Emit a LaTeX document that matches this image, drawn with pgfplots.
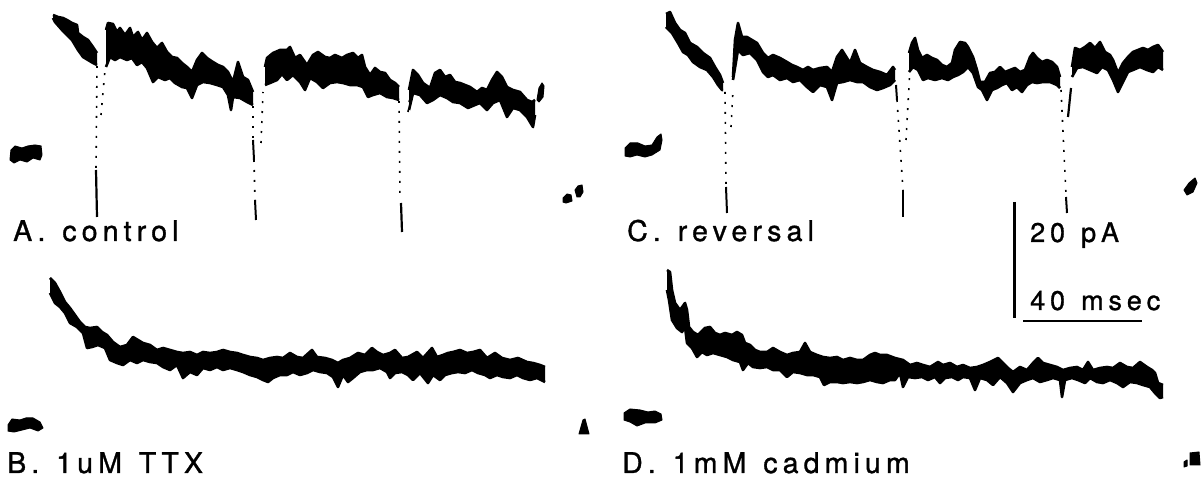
\documentclass[border=0pt]{standalone}
\usepackage{pgfplots}
\pgfplotsset{compat=1.18}
\usepgfplotslibrary{fillbetween}
\usepackage{fontspec}
\setmainfont{TeX Gyre Heros}[LetterSpace=18, FakeBold=1.1, WordSpace=1.3]
\tikzset{
  lab/.style={anchor=base west, inner sep=0pt, font=\fontsize{28.5}{32}\selectfont},
  dotsp/.style={line width=1.6pt, dash pattern=on 2pt off 8pt},
  blob/.style={fill=black, line width=1pt}}
\begin{document}
\begin{tikzpicture}
\begin{axis}[hide axis, scale only axis, width=1204pt, height=478pt,
  xmin=0, xmax=1204, ymin=0, ymax=478, y dir=reverse, clip=false,
  every axis plot/.append style={black, line width=2.6pt, line join=round}]
\path (rel axis cs:0,0) rectangle (rel axis cs:1,1);

% ---------------- Panel A ----------------
\addplot[blob] coordinates {(11,150)(15,146)(22,148)(28,146)(35,145)(41,146)(42,155)(40,160)(33,158)(27,162)(20,160)(14,163)(10,160)} -- cycle;
\addplot[name path=a1u] coordinates {(53,15)(58,17)(63,18)(67,20)(72,23)(77,25)(78,33)(83,37)(88,40)(93,47)(97,53)};
\addplot[name path=a1l] coordinates {(53,18)(55,22)(62,30)(67,35)(72,40)(78,50)(83,57)(88,60)(93,63)(97,65)};
\addplot[black] fill between[of=a1u and a1l];
\addplot[dotsp] coordinates {(97,66)(96,170)};
\addplot[line width=2.2pt] coordinates {(96,170)(97,217)};
\addplot[dotsp] coordinates {(101,115)(105,70)};
\addplot[name path=a2u] coordinates {(106,30)(108,23)(113,24)(117,32)(120,28)(125,35)(130,28)(133,37)(138,32)(142,40)(147,33)(152,42)(157,48)(162,43)(167,52)(172,57)(177,58)(182,63)(187,67)(192,72)(197,60)(202,53)(207,58)(213,62)(218,65)(223,67)(228,72)(233,82)(238,62)(243,77)(248,80)(253,92)};
\addplot[name path=a2l] coordinates {(106,67)(110,57)(115,60)(120,57)(127,60)(132,58)(137,65)(142,62)(147,68)(153,82)(158,77)(165,80)(170,78)(175,83)(182,87)(187,88)(192,98)(197,85)(203,82)(210,83)(217,85)(223,87)(228,95)(231,110)(233,97)(240,98)(247,102)(253,105)};
\addplot[black] fill between[of=a2u and a2l];
\addplot[dotsp] coordinates {(253,106)(253,140)};
\addplot[line width=2pt] coordinates {(253,140)(254,160)};
\addplot[dotsp] coordinates {(254,160)(255,200)};
\addplot[line width=2pt] coordinates {(255,200)(256,220)};
\addplot[dotsp] coordinates {(261,143)(263,92)};
\addplot[name path=a3u] coordinates {(265,67)(267,58)(273,53)(280,50)(287,50)(290,47)(295,58)(300,55)(307,65)(313,55)(318,52)(325,57)(330,58)(335,55)(342,58)(347,55)(353,53)(358,58)(362,55)(365,67)(370,75)(375,68)(380,72)(385,73)(390,80)(395,83)(399,87)};
\addplot[name path=a3l] coordinates {(265,85)(270,83)(277,80)(282,74)(287,80)(293,75)(300,82)(305,90)(310,78)(317,82)(323,88)(330,83)(337,82)(343,83)(350,85)(357,85)(363,87)(368,97)(373,95)(380,93)(387,97)(393,98)(399,100)};
\addplot[black] fill between[of=a3u and a3l];
\addplot[dotsp] coordinates {(399,101)(400,200)};
\addplot[line width=2.2pt] coordinates {(401,203)(402,232)};
\addplot[dotsp] coordinates {(408,112)(410,95)};
\addplot[name path=a4u] coordinates {(409,90)(413,70)(418,75)(423,83)(430,88)(435,73)(440,70)(445,77)(450,75)(455,82)(460,83)(465,85)(470,87)(477,92)(482,88)(487,90)(492,80)(497,72)(502,77)(507,87)(513,90)(520,92)(527,100)(532,102)(535,100)};
\addplot[name path=a4l] coordinates {(409,110)(413,93)(420,95)(427,103)(433,100)(440,95)(447,98)(453,102)(460,103)(468,108)(475,105)(480,103)(487,110)(493,103)(500,100)(507,117)(513,108)(520,110)(527,117)(533,127)(535,115)};
\addplot[black] fill between[of=a4u and a4l];
\addplot[blob] coordinates {(537,100)(539,88)(542,83)(544,86)(543,97)(539,102)} -- cycle;
\addplot[blob] coordinates {(563,198)(567,194)(571,195)(572,201)(566,203)(563,202)} -- cycle;
\addplot[blob] coordinates {(575,190)(578,186)(582,185)(583,192)(580,197)(577,197)} -- cycle;
\node[lab] at (axis cs:13,241) {A. control};

% ---------------- Panel C ----------------
\addplot[blob] coordinates {(625,148)(630,143)(638,143)(645,146)(652,145)(657,137)(661,134)(662,140)(660,150)(652,155)(645,157)(637,155)(630,157)(625,156)} -- cycle;
\addplot[name path=c1u] coordinates {(666,14)(670,12)(675,23)(680,30)(685,33)(690,43)(697,47)(703,53)(710,58)(715,67)(720,75)(723,83)};
\addplot[name path=c1l] coordinates {(666,27)(672,33)(678,43)(683,52)(688,55)(693,62)(700,67)(707,70)(713,77)(718,85)(722,90)(723,90)};
\addplot[black] fill between[of=c1u and c1l];
\addplot[dotsp] coordinates {(725,92)(726,185)};
\addplot[line width=2pt] coordinates {(726,187)(727,213)};
\addplot[dotsp] coordinates {(731,127)(733,90)};
\addplot[name path=c2u] coordinates {(733,77)(735,40)(738,23)(742,37)(747,37)(752,40)(757,43)(763,53)(768,58)(773,55)(780,58)(787,62)(792,65)(797,67)(803,70)(808,67)(813,70)(820,68)(827,67)(832,72)(837,57)(842,50)(847,58)(850,63)(855,50)(860,63)(867,67)(873,70)(880,72)(887,75)(893,67)(895,70)};
\addplot[name path=c2l] coordinates {(733,80)(738,50)(743,55)(750,53)(757,60)(763,72)(768,77)(773,75)(780,80)(787,78)(793,82)(800,80)(807,87)(813,92)(820,85)(827,87)(832,100)(837,83)(843,82)(850,80)(857,82)(863,82)(870,87)(877,90)(883,88)(890,85)(895,80)};
\addplot[black] fill between[of=c2u and c2l];
\addplot[line width=2pt] coordinates {(896,85)(897,100)};
\addplot[dotsp] coordinates {(897,100)(903,190)};
\addplot[line width=2.2pt] coordinates {(903,190)(903,217)};
\addplot[dotsp] coordinates {(906,140)(910,68)};
\addplot[name path=c3u] coordinates {(909,53)(912,43)(915,38)(918,50)(922,58)(927,55)(932,58)(937,60)(942,65)(947,67)(952,63)(955,50)(960,42)(965,43)(968,47)(973,57)(977,70)(980,82)(985,82)(990,73)(995,72)(1000,67)(1005,72)(1010,70)(1015,68)(1020,72)(1025,70)(1030,57)(1033,53)(1037,58)(1042,62)(1047,60)(1052,62)(1057,67)(1060,77)};
\addplot[name path=c3l] coordinates {(909,72)(913,67)(918,70)(923,80)(928,78)(935,80)(942,78)(948,80)(953,77)(958,75)(963,72)(968,67)(973,73)(978,87)(982,90)(987,100)(992,90)(997,88)(1002,85)(1007,83)(1012,90)(1017,87)(1022,92)(1027,85)(1032,82)(1037,83)(1043,82)(1050,82)(1057,85)(1060,88)};
\addplot[black] fill between[of=c3u and c3l];
\addplot[dotsp] coordinates {(1061,90)(1066,195)};
\addplot[line width=2pt] coordinates {(1066,197)(1067,213)};
\addplot[line width=2.2pt] coordinates {(1068,117)(1071,88)};
\addplot[name path=c4u] coordinates {(1072,67)(1075,48)(1080,50)(1085,47)(1090,43)(1095,48)(1100,42)(1105,52)(1110,55)(1113,60)(1118,73)(1123,63)(1128,57)(1133,52)(1138,50)(1143,48)(1148,50)(1153,47)(1158,45)(1163,52)};
\addplot[name path=c4l] coordinates {(1072,77)(1077,68)(1083,67)(1090,70)(1097,73)(1102,67)(1108,70)(1113,80)(1118,92)(1123,82)(1128,72)(1133,70)(1140,67)(1147,70)(1153,72)(1158,67)(1163,70)};
\addplot[black] fill between[of=c4u and c4l];
\addplot[blob] coordinates {(1184,190)(1189,183)(1195,178)(1197,183)(1193,192)(1187,195)} -- cycle;
\node[lab] at (axis cs:627,241) {C. reversal};

% ---------------- scale bars ----------------
\addplot[line width=3pt] coordinates {(1014,202)(1014,318)};
\addplot[line width=2.5pt] coordinates {(1023,321)(1142,321)};
\node[lab, font=\fontsize{27}{30}\selectfont] at (axis cs:1030,242) {20 pA};
\node[lab, font=\fontsize{27}{30}\selectfont] at (axis cs:1030,310) {40 msec};

% ---------------- Panel B ----------------
\addplot[blob] coordinates {(8,425)(12,419)(20,420)(26,418)(33,418)(40,422)(43,428)(38,431)(30,428)(22,430)(14,432)(8,431)} -- cycle;
\addplot[name path=bu] coordinates {(50,278)(55,283)(60,292)(65,302)(70,308)(75,315)(80,322)(85,327)(90,328)(97,327)(102,332)(107,335)(113,342)(120,347)(127,345)(133,337)(138,340)(143,343)(150,345)(157,350)(163,348)(170,350)(177,352)(183,353)(190,352)(197,355)(203,352)(210,353)(217,352)(223,350)(230,352)(237,353)(243,355)(250,357)(257,358)(263,360)(270,358)(277,357)(283,358)(290,353)(297,357)(303,358)(312,350)(317,357)(325,358)(332,360)(338,363)(343,360)(350,358)(358,353)(365,355)(372,348)(377,352)(383,355)(390,353)(395,350)(402,358)(408,357)(417,352)(423,358)(432,348)(437,357)(443,355)(448,353)(453,352)(460,350)(467,353)(473,352)(480,350)(487,358)(495,353)(502,358)(510,360)(518,358)(527,362)(533,363)(540,365)(545,367)};
\addplot[name path=bl] coordinates {(50,293)(55,303)(60,307)(65,313)(70,323)(77,327)(83,333)(87,348)(92,347)(98,345)(105,348)(110,360)(117,363)(123,365)(130,360)(137,363)(143,360)(150,362)(157,363)(163,367)(170,370)(177,365)(183,378)(190,372)(197,375)(203,368)(210,370)(217,367)(223,370)(230,368)(237,370)(243,372)(250,375)(257,377)(263,380)(268,382)(273,378)(280,375)(287,375)(293,372)(300,375)(307,373)(313,370)(320,372)(327,373)(333,377)(338,387)(343,375)(348,382)(353,378)(360,372)(367,370)(373,370)(380,368)(387,372)(390,378)(395,373)(402,372)(408,375)(413,380)(420,373)(428,383)(433,375)(440,380)(445,375)(452,373)(458,372)(465,373)(472,370)(478,373)(485,375)(490,378)(497,375)(503,377)(510,378)(517,375)(523,378)(530,380)(537,378)(545,382)};
\addplot[black] fill between[of=bu and bl];
\addplot[blob] coordinates {(579,434)(583,420)(585,419)(589,434)} -- cycle;
\node[lab] at (axis cs:7,473) {B. 1uM TTX};

% ---------------- Panel D ----------------
\addplot[blob] coordinates {(624,413)(630,409)(640,410)(648,412)(655,411)(661,414)(662,420)(655,423)(645,423)(637,426)(630,422)(624,420)} -- cycle;
\addplot[name path=du] coordinates {(667,270)(670,272)(672,290)(675,303)(680,310)(685,303)(687,310)(689,327)(693,332)(698,335)(705,328)(710,327)(715,333)(720,335)(725,333)(732,335)(737,332)(742,335)(745,343)(750,345)(755,350)(760,352)(767,352)(773,348)(780,352)(787,355)(793,353)(800,352)(805,343)(810,352)(817,355)(823,357)(830,358)(837,357)(843,360)(850,358)(857,360)(863,360)(870,355)(875,353)(880,355)(887,355)(895,358)(903,360)(910,365)(917,363)(923,365)(930,367)(938,362)(943,365)(950,363)(957,367)(963,365)(970,368)(977,367)(983,365)(990,362)(998,358)(1003,363)(1008,368)(1013,372)(1020,367)(1027,370)(1033,363)(1038,358)(1043,363)(1050,365)(1057,367)(1063,370)(1070,368)(1077,367)(1083,370)(1088,362)(1093,370)(1100,368)(1107,367)(1113,368)(1120,363)(1127,367)(1133,368)(1140,362)(1147,367)(1152,370)(1155,373)(1158,383)(1163,385)};
\addplot[name path=dl] coordinates {(667,290)(669,300)(672,320)(677,328)(682,332)(685,327)(687,343)(692,348)(697,357)(702,352)(707,355)(713,353)(720,355)(727,357)(733,360)(740,362)(743,370)(748,363)(753,367)(760,368)(767,367)(773,370)(780,370)(787,377)(793,372)(800,373)(807,375)(813,375)(820,377)(824,385)(830,382)(837,382)(843,383)(850,382)(857,383)(863,382)(870,380)(877,382)(883,383)(890,380)(895,380)(900,373)(903,387)(908,377)(915,378)(922,377)(928,380)(935,377)(940,383)(945,378)(952,377)(958,380)(963,377)(970,378)(975,390)(980,378)(987,380)(993,385)(1000,377)(1007,383)(1013,392)(1020,383)(1027,380)(1033,378)(1040,382)(1047,380)(1053,378)(1060,380)(1062,397)(1065,380)(1072,378)(1078,380)(1085,383)(1090,378)(1097,382)(1103,383)(1110,380)(1117,383)(1123,387)(1130,382)(1137,383)(1143,385)(1150,387)(1155,393)(1160,398)(1163,397)};
\addplot[black] fill between[of=du and dl];
\addplot[blob] coordinates {(1190,453)(1199,452)(1200,465)(1190,465)} -- cycle;
\addplot[blob] coordinates {(1184,462)(1187,460)(1187,466)(1184,467)} -- cycle;
\node[lab] at (axis cs:622,473) {D. 1mM cadmium};
\end{axis}
\end{tikzpicture}
\end{document}
